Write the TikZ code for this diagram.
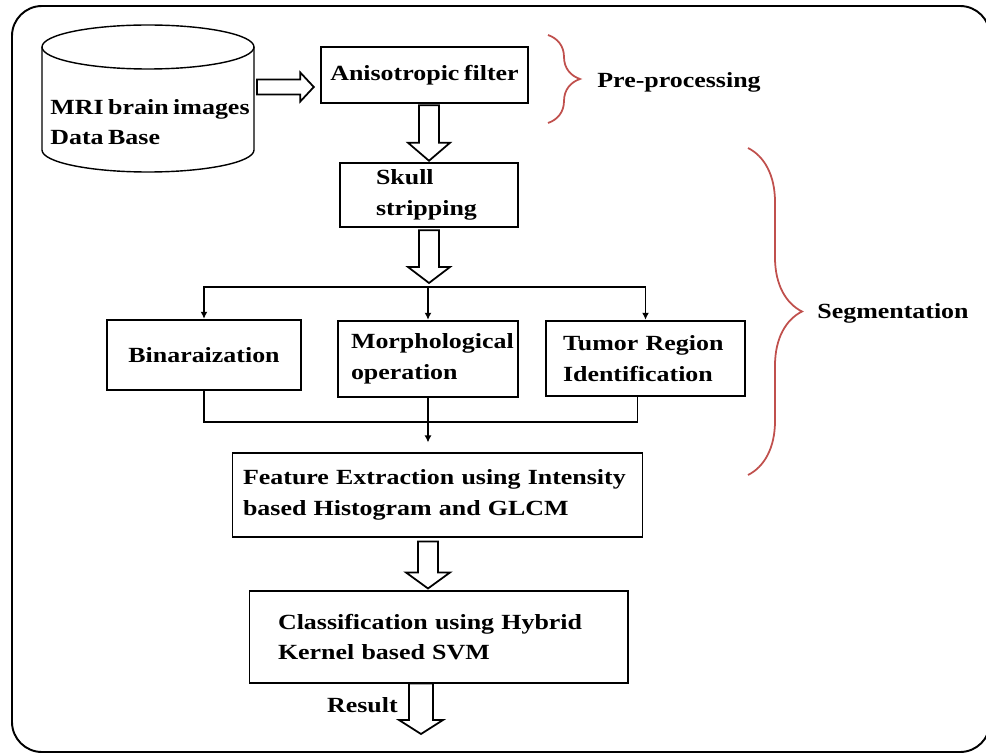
\documentclass[tikz,border=0pt]{standalone}
\usepackage{fontspec}
\setmainfont{Liberation Serif}[FakeStretch=1.2,WordSpace=0.7]
\usetikzlibrary{calc,arrows.meta,decorations.pathreplacing}
\definecolor{bracered}{RGB}{192,80,77}
% hollow block arrow: shaft half width, head half width, head length, from, to
\newcommand{\fatarrow}[5]{%
  \coordinate (hb) at ($(#5)!#3!(#4)$);
  \draw[hollow] ($(#4)!#1!90:(#5)$) -- ($(hb)!#1!90:(#5)$) -- ($(hb)!#2!90:(#5)$) -- (#5)
    -- ($(hb)!#2!-90:(#5)$) -- ($(hb)!#1!-90:(#5)$) -- ($(#4)!#1!-90:(#5)$) -- cycle;}
\begin{document}
\begin{tikzpicture}[x=0.02cm,y=-0.02cm,
  font=\fontsize{12.3}{17.5}\selectfont\bfseries,
  thickbox/.style={draw,line width=1.4pt,inner ysep=0pt},
  thinbox/.style={draw,line width=0.6pt,inner ysep=0pt},
  hollow/.style={draw,line width=1pt,fill=white,line join=miter},
  link/.style={line width=1pt,-{Latex[length=4pt,width=4pt]}},
  curly/.style={draw=bracered,line width=1pt,decorate,decoration={brace,amplitude=#1}}]
\useasboundingbox (0,0) rectangle (986,753);
\draw[line width=1.1pt,rounded corners=0.6cm] (12,6) rectangle (990,752);
% database
\draw[line width=0.8pt] (42,47) -- (42,150) arc[start angle=180,end angle=0,x radius=106,y radius=22] -- (254,47);
\draw[line width=0.8pt] (148,47) ellipse[x radius=106,y radius=22];
\node[anchor=west,inner sep=0pt,align=left] (dbtext) at (50,122) {MRI brain images\\Data Base};
\coordinate (db) at (257,87);
% boxes
\node[thickbox,minimum width=4.14cm,minimum height=1.12cm] (filt) at (424.5,75) {Anisotropic filter};
\node[thickbox,minimum height=1.28cm,inner xsep=0.72cm,text width=2.12cm,align=left] (skull) at (429,195) {Skull\\stripping};
\node[thickbox,minimum width=3.88cm,minimum height=1.4cm] (bin) at (204,355) {Binaraization};
\node[thickbox,minimum height=1.52cm,inner xsep=0.26cm,text width=3.08cm,align=left] (morph) at (428,359) {Morphological\\operation};
\node[thickbox,minimum height=1.5cm,inner xsep=0.34cm,text width=3.3cm,align=left] (tumor) at (645.5,358.5) {Tumor Region\\Identification};
\node[thinbox,minimum height=1.68cm,inner xsep=0.22cm,text width=7.78cm,align=left] (feat) at (437.5,495) {Feature Extraction using Intensity\\based Histogram and GLCM};
\node[thinbox,minimum height=1.84cm,inner xsep=0.58cm,text width=6.42cm,align=left] (cls) at (438.5,637) {Classification using Hybrid\\Kernel based SVM};
% block arrows
\coordinate (dbtip) at ($(filt.west)+(-6,12)$);
\fatarrow{0.15cm}{0.29cm}{0.27cm}{db}{dbtip}
\coordinate (a1) at ($(filt.south)+(4.5,1)$);
\coordinate (a1tip) at ($(skull.north)+(0,-1)$);
\fatarrow{0.2cm}{0.42cm}{0.36cm}{a1}{a1tip}
\coordinate (split) at (428,287);
\coordinate (a2) at ($(skull.south)+(0,2)$);
\coordinate (a2tip) at ($(split)+(1,-4)$);
\fatarrow{0.2cm}{0.42cm}{0.32cm}{a2}{a2tip}
\coordinate (a3) at ($(feat.south)+(-9.5,4)$);
\coordinate (a3tip) at ($(cls.north)+(-10.5,-2)$);
\fatarrow{0.2cm}{0.44cm}{0.32cm}{a3}{a3tip}
\coordinate (a4) at ($(cls.south)+(-17.5,0)$);
\coordinate (out) at (421,734);
\fatarrow{0.24cm}{0.44cm}{0.28cm}{a4}{out}
\node[anchor=east,inner sep=0pt] (result) at (398,705) {Result};
% branches
\draw[link] (split) -| (bin.north);
\draw[link] (split) -- (morph.north);
\draw[link] (split) -| (tumor.north);
\coordinate (join) at (428,422);
\draw[line width=1pt] (bin.south) |- (join);
\draw[line width=1pt] ($(tumor.south)+(-8,0)$) |- (join);
\draw[link] (morph.south) -- ($(feat.north)+(-9.5,-10)$);
% braces
\draw[curly=0.64cm] (548,35) -- (548,123);
\draw[curly=1.08cm] (748,148) -- (748,475);
\node[anchor=west,inner sep=0pt] (pre) at (597,82) {Pre-processing};
\node[anchor=west,inner sep=0pt] (seg) at (817,313) {Segmentation};
\end{tikzpicture}
\end{document}
